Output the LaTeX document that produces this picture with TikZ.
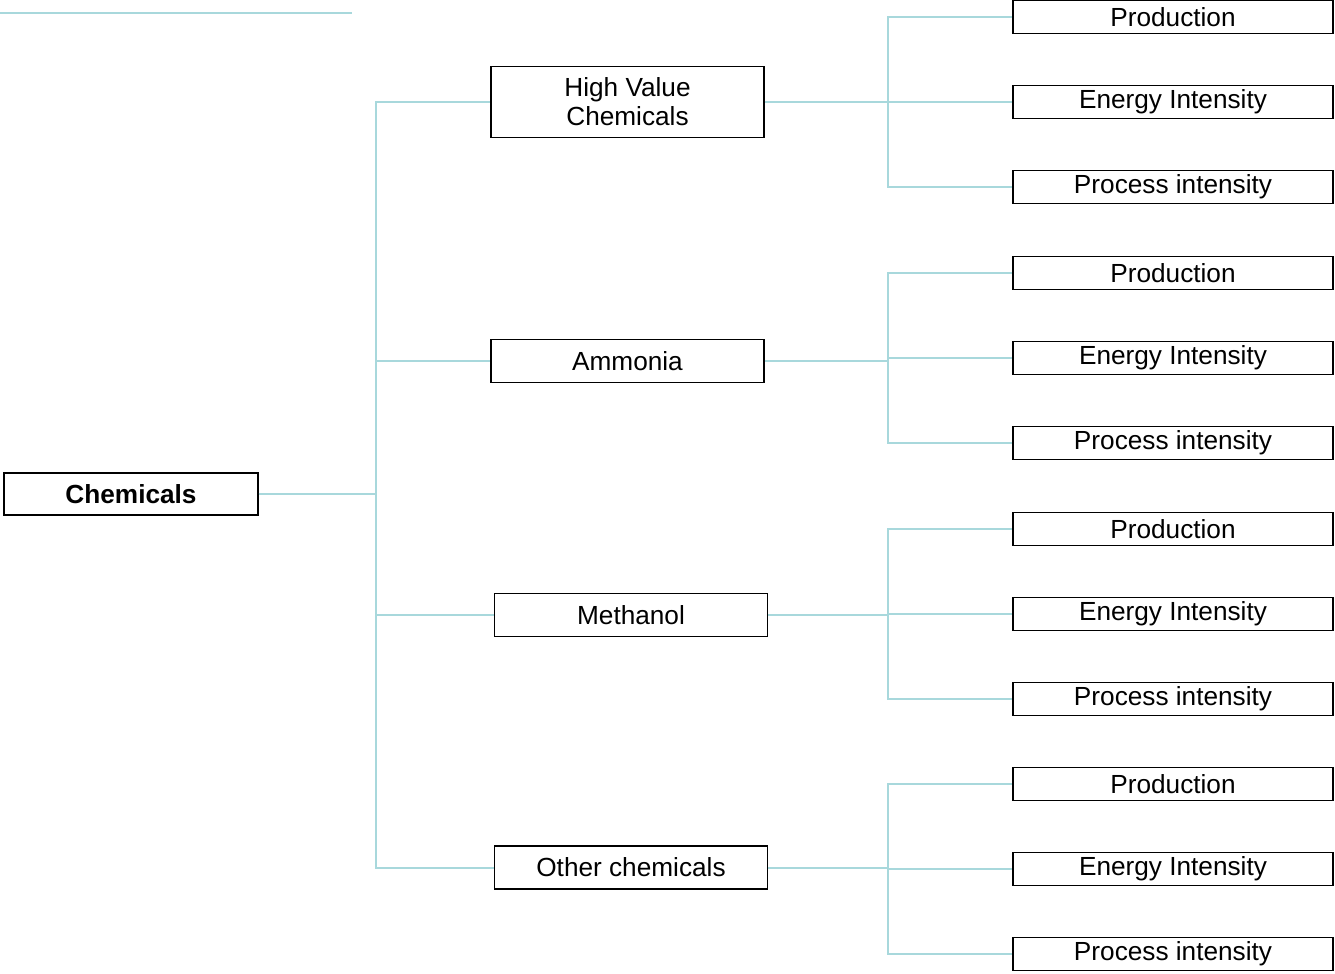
\documentclass[tikz,border=0pt]{standalone}
\usepackage{fontspec}
\setmainfont{Liberation Sans}
\usepackage{tikz}

\definecolor{linkblue}{RGB}{168,216,220}

\begin{document}
\begin{tikzpicture}[x=0.5pt,y=-0.5pt,
	box/.style={draw=black,line width=0.75pt,fill=white,inner sep=0pt,align=center,
		font=\fontsize{13.1}{14.6}\selectfont},
	root/.style={box,minimum width=127pt,minimum height=21pt,
		font=\fontsize{13.1}{14.6}\selectfont\bfseries},
	group/.style={box,minimum width=136.5pt,minimum height=21.5pt},
	leaf/.style={box,minimum width=160pt,minimum height=16.5pt},
	link/.style={draw=linkblue,line width=1pt}]
	\useasboundingbox (0,0) rectangle (1335,974);
	% rule along the top
	\coordinate (rulea) at (0,13);
	\coordinate (ruleb) at (352,13);
	\draw[link] (rulea) -- (ruleb);
	% trunk and bus positions
	\coordinate (trunk) at (376,0);
	\coordinate (bus) at (888,0);
	\node[root] (chem) at (131,494) {Chemicals};
	\node[group,minimum height=35.5pt] (hvc) at (627.5,102) {High Value\\Chemicals};
	\node[group] (amm) at (627.5,361) {Ammonia};
	\node[group] (meth) at (631,615) {Methanol};
	\node[group] (oth) at (631,867.5) {Other chemicals};
	\foreach \g in {hvc,amm,meth,oth}
		\draw[link] (chem.east) -| (trunk |- \g.west) -- (\g.west);
	% three leaves per group
	\foreach \g/\y in {hvc/102,amm/358,meth/614,oth/869}{
		\node[leaf] (\g-p) at (1173,\y-85) {Production};
		\node[leaf] (\g-e) at (1173,\y) {Energy Intensity};
		\node[leaf] (\g-r) at (1173,\y+85) {Process intensity};
		\draw[link] (\g.east) -- (\g.east -| bus);
		\foreach \l in {p,e,r}
			\draw[link] (\g.east -| bus) |- (\g-\l.west);
	}
\end{tikzpicture}
\end{document}
